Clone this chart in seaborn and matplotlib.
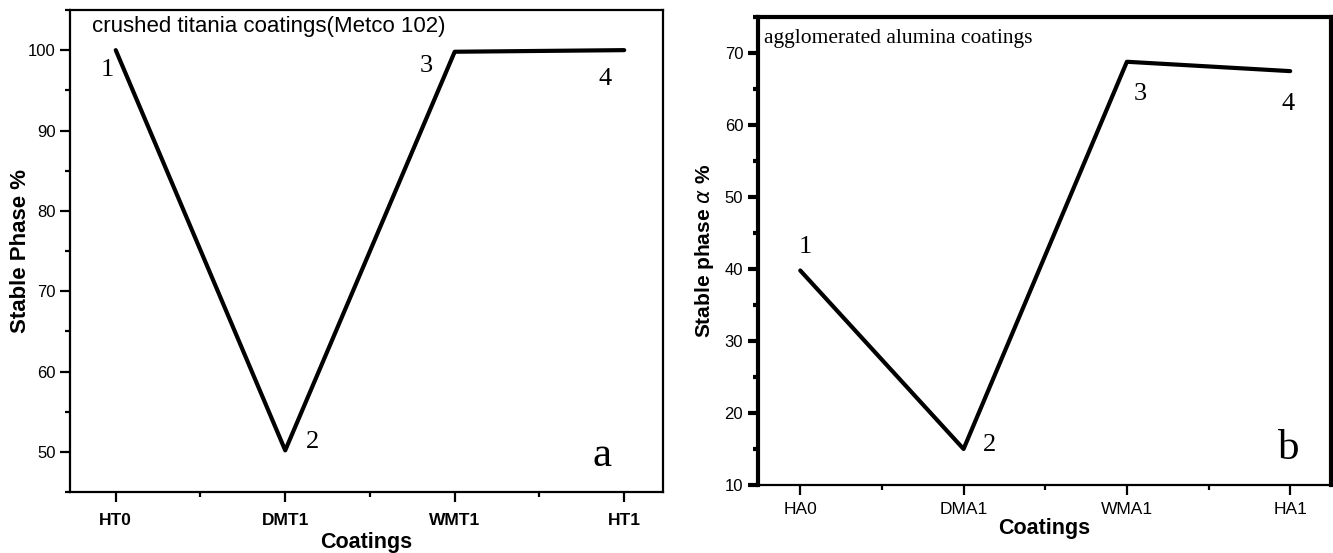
import seaborn as sns
import matplotlib.pyplot as plt
from matplotlib.ticker import MultipleLocator

# dati dei due pannelli
titania_coatings = ['HT0', 'DMT1', 'WMT1', 'HT1']
titania_stable = [100, 50.2, 99.8, 100]
alumina_coatings = ['HA0', 'DMA1', 'WMA1', 'HA1']
alumina_stable = [39.8, 15.0, 68.8, 67.5]
point_labels = ['1', '2', '3', '4']

sns.set_style('ticks')
plt.rcParams['font.family'] = ['Liberation Sans', 'DejaVu Sans']
for k in ['text.color', 'axes.labelcolor', 'xtick.color', 'ytick.color']:
    plt.rcParams[k] = 'black'

fig = plt.figure(figsize=(13.33, 5.53), dpi=100)
ax1 = fig.add_axes([0.0525, 0.110, 0.445, 0.872])
ax2 = fig.add_axes([0.5685, 0.123, 0.430, 0.846])

# pannello a
sns.lineplot(x=list(range(len(titania_coatings))), y=titania_stable, ax=ax1,
             color='black', linewidth=3)
ax1.set_xlim(-0.27, 3.23)
ax1.set_ylim(45, 105)
ax1.set_xticks(range(len(titania_coatings)))
ax1.set_xticklabels(titania_coatings, fontweight='bold')
ax1.xaxis.set_minor_locator(MultipleLocator(0.5))
ax1.yaxis.set_major_locator(MultipleLocator(10))
ax1.yaxis.set_minor_locator(MultipleLocator(5))
ax1.set_xlabel('Coatings', fontsize=15.5, fontweight='bold', labelpad=3)
ax1.set_ylabel('Stable Phase %', fontsize=16, fontweight='bold')
ax1.yaxis.set_label_coords(-0.066, 0.5)
ax1.text(0.037, 0.988, 'crushed titania coatings(Metco 102)', transform=ax1.transAxes,
         fontsize=16, va='top')
for (dx, dy), lab in zip([(-0.05, 97.5), (1.16, 51.2), (1.83, 98.0), (2.89, 96.4)], point_labels):
    ax1.text(dx, dy, lab, fontsize=19, family='Liberation Serif', ha='center', va='center')
ax1.text(2.87, 49.5, 'a', fontsize=31, family='Liberation Serif', ha='center', va='center')
for s in ax1.spines.values():
    s.set_visible(True)
    s.set_linewidth(1.6)
    s.set_color('black')
ax1.tick_params(axis='both', which='major', direction='out', length=7, width=1.6, labelsize=12)
ax1.tick_params(axis='both', which='minor', direction='out', length=3.5, width=1.6)
ax1.tick_params(axis='x', labelsize=12.5, pad=8)

# pannello b
sns.lineplot(x=list(range(len(alumina_coatings))), y=alumina_stable, ax=ax2,
             color='black', linewidth=3)
ax2.set_xlim(-0.26, 3.25)
ax2.set_ylim(10, 75)
ax2.set_xticks(range(len(alumina_coatings)))
ax2.set_xticklabels(alumina_coatings)
ax2.xaxis.set_minor_locator(MultipleLocator(0.5))
ax2.yaxis.set_major_locator(MultipleLocator(10))
ax2.yaxis.set_minor_locator(MultipleLocator(5))
ax2.set_xlabel('Coatings', fontsize=15.5, fontweight='bold', labelpad=1)
ax2.set_ylabel('Stable phase $\\alpha$ %', fontsize=15, fontweight='bold', labelpad=6)
ax2.text(0.01, 0.975, 'agglomerated alumina coatings', transform=ax2.transAxes,
         fontsize=15.5, family='Liberation Serif', va='top')
for (dx, dy), lab in zip([(0.03, 43.0), (1.16, 15.5), (2.08, 64.3), (2.99, 63.0)], point_labels):
    ax2.text(dx, dy, lab, fontsize=19, family='Liberation Serif', ha='center', va='center')
ax2.text(2.99, 15.0, 'b', fontsize=31, family='Liberation Serif', ha='center', va='center')
for name, s in ax2.spines.items():
    s.set_visible(True)
    s.set_color('black')
    s.set_linewidth(3 if name in ('left', 'top', 'right') else 1.6)
ax2.tick_params(axis='both', which='major', direction='out', length=7, width=3, labelsize=12)
ax2.tick_params(axis='both', which='minor', direction='out', length=3.5, width=3)
ax2.tick_params(axis='x', which='both', width=1.6, labelsize=12.5, pad=5)

fig.savefig('out.png', dpi=100)
